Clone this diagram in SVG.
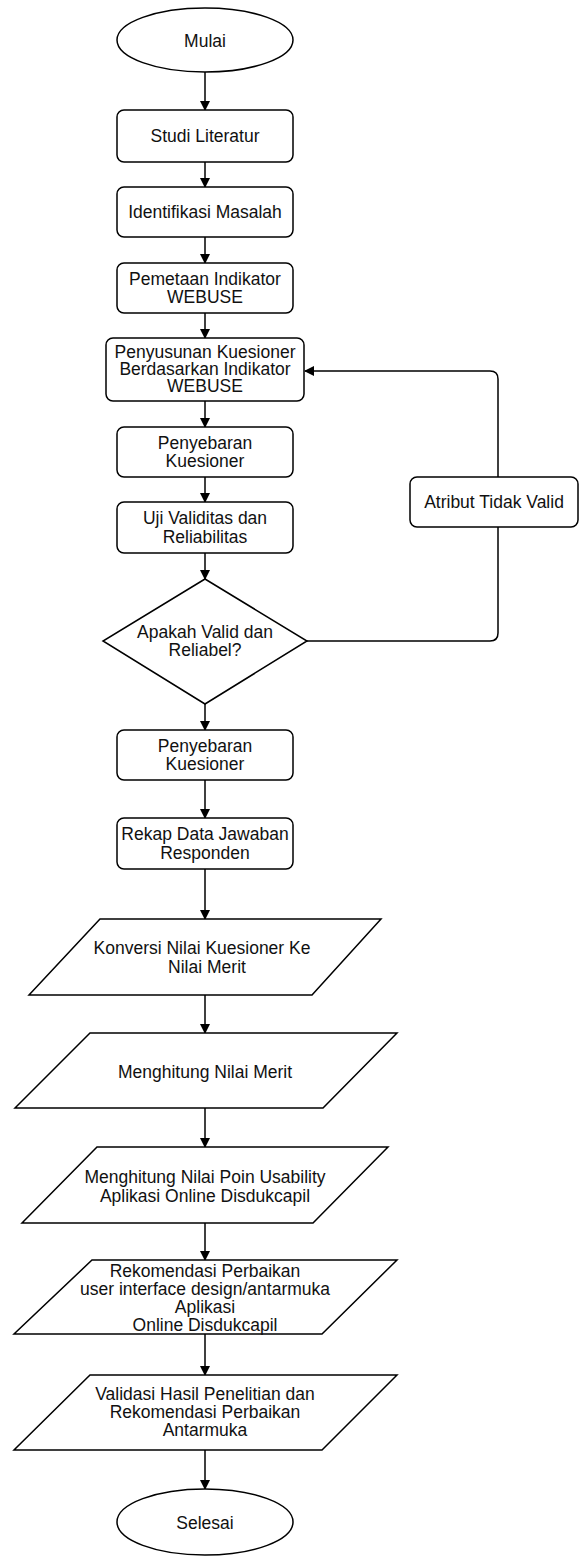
<svg xmlns="http://www.w3.org/2000/svg" width="582" height="1559" viewBox="0 0 582 1559">
<style>
.s{fill:#fff;stroke:#000;stroke-width:1.5}
.t{font-family:"Liberation Sans",Arial,sans-serif;font-size:17.5px;fill:#111;text-anchor:middle;dominant-baseline:central}
.c{fill:none;stroke:#000;stroke-width:1.5}
</style>
<defs>
<marker id="a" viewBox="0 0 10 10" refX="9" refY="5" markerWidth="10" markerHeight="10" markerUnits="userSpaceOnUse" orient="auto">
<path d="M0,0 L10,5 L0,10 z" fill="#000"/>
</marker>
</defs>
<rect width="582" height="1559" fill="#fff"/>
<g id="connectors">
<path class="c" d="M205,72 V110" marker-end="url(#a)"/>
<path class="c" d="M205,162 V187" marker-end="url(#a)"/>
<path class="c" d="M205,237 V263" marker-end="url(#a)"/>
<path class="c" d="M205,313 V338" marker-end="url(#a)"/>
<path class="c" d="M205,401 V427" marker-end="url(#a)"/>
<path class="c" d="M205,477 V502" marker-end="url(#a)"/>
<path class="c" d="M205,553 V579" marker-end="url(#a)"/>
<path class="c" d="M205,704 V730" marker-end="url(#a)"/>
<path class="c" d="M205,780 V818" marker-end="url(#a)"/>
<path class="c" d="M205,869 V919" marker-end="url(#a)"/>
<path class="c" d="M205,995 V1033" marker-end="url(#a)"/>
<path class="c" d="M205,1108 V1147" marker-end="url(#a)"/>
<path class="c" d="M205,1223 V1260" marker-end="url(#a)"/>
<path class="c" d="M205,1334 V1375" marker-end="url(#a)"/>
<path class="c" d="M205,1450 V1489" marker-end="url(#a)"/>
<path class="c" d="M307,641 H490 Q498,641 498,633 V527"/>
<path class="c" d="M498,477 V379 Q498,371 490,371 H305" marker-end="url(#a)"/>
</g>
<g id="mulai"><ellipse class="s" cx="205" cy="40" rx="88" ry="32"/><text class="t" x="205" y="41">Mulai</text></g>
<g id="studi"><rect class="s" x="117" y="110" width="176" height="52" rx="7"/><text class="t" x="205" y="136">Studi Literatur</text></g>
<g id="identifikasi"><rect class="s" x="117" y="187" width="176" height="50" rx="7"/><text class="t" x="205" y="212">Identifikasi Masalah</text></g>
<g id="pemetaan"><rect class="s" x="117" y="263" width="176" height="50" rx="7"/><text class="t" x="205" y="279">Pemetaan Indikator</text><text class="t" x="205" y="297">WEBUSE</text></g>
<g id="penyusunan"><rect class="s" x="106" y="338" width="198" height="63" rx="7"/><text class="t" x="205" y="352">Penyusunan Kuesioner</text><text class="t" x="205" y="369">Berdasarkan Indikator</text><text class="t" x="205" y="386">WEBUSE</text></g>
<g id="penyebaran1"><rect class="s" x="117" y="427" width="176" height="50" rx="7"/><text class="t" x="205" y="443">Penyebaran</text><text class="t" x="205" y="461">Kuesioner</text></g>
<g id="uji"><rect class="s" x="117" y="502" width="176" height="51" rx="7"/><text class="t" x="205" y="518">Uji Validitas dan</text><text class="t" x="205" y="537">Reliabilitas</text></g>
<g id="keputusan"><polygon class="s" points="205,579 307,641 205,704 103,641"/><text class="t" x="205" y="632">Apakah Valid dan</text><text class="t" x="205" y="650">Reliabel?</text></g>
<g id="atribut"><rect class="s" x="410" y="477" width="168" height="50" rx="7"/><text class="t" x="494" y="502">Atribut Tidak Valid</text></g>
<g id="penyebaran2"><rect class="s" x="117" y="730" width="176" height="50" rx="7"/><text class="t" x="205" y="746">Penyebaran</text><text class="t" x="205" y="764">Kuesioner</text></g>
<g id="rekap"><rect class="s" x="117" y="818" width="176" height="51" rx="7"/><text class="t" x="205" y="834">Rekap Data Jawaban</text><text class="t" x="205" y="853">Responden</text></g>
<g id="konversi"><polygon class="s" points="100,919 381,919 312,995 29,995"/><text class="t" x="202" y="948">Konversi Nilai Kuesioner Ke</text><text class="t" x="207" y="967">Nilai Merit</text></g>
<g id="menghitung"><polygon class="s" points="90,1033 397,1033 323,1108 15,1108"/><text class="t" x="205" y="1072">Menghitung Nilai Merit</text></g>
<g id="poin"><polygon class="s" points="97,1147 388,1147 313,1223 22,1223"/><text class="t" x="205" y="1177">Menghitung Nilai Poin Usability</text><text class="t" x="205" y="1196">Aplikasi Online Disdukcapil</text></g>
<g id="rekomendasi"><polygon class="s" points="92,1260 397,1260 322,1334 14,1334"/><text class="t" x="205" y="1271">Rekomendasi Perbaikan</text><text class="t" x="205" y="1289">user interface design/antarmuka</text><text class="t" x="205" y="1307">Aplikasi</text><text class="t" x="205" y="1325">Online Disdukcapil</text></g>
<g id="validasi"><polygon class="s" points="90,1375 397,1375 322,1450 14,1450"/><text class="t" x="205" y="1394">Validasi Hasil Penelitian dan</text><text class="t" x="205" y="1412">Rekomendasi Perbaikan</text><text class="t" x="205" y="1430">Antarmuka</text></g>
<g id="selesai"><ellipse class="s" cx="205" cy="1522" rx="88" ry="33"/><text class="t" x="205" y="1523">Selesai</text></g>
</svg>
